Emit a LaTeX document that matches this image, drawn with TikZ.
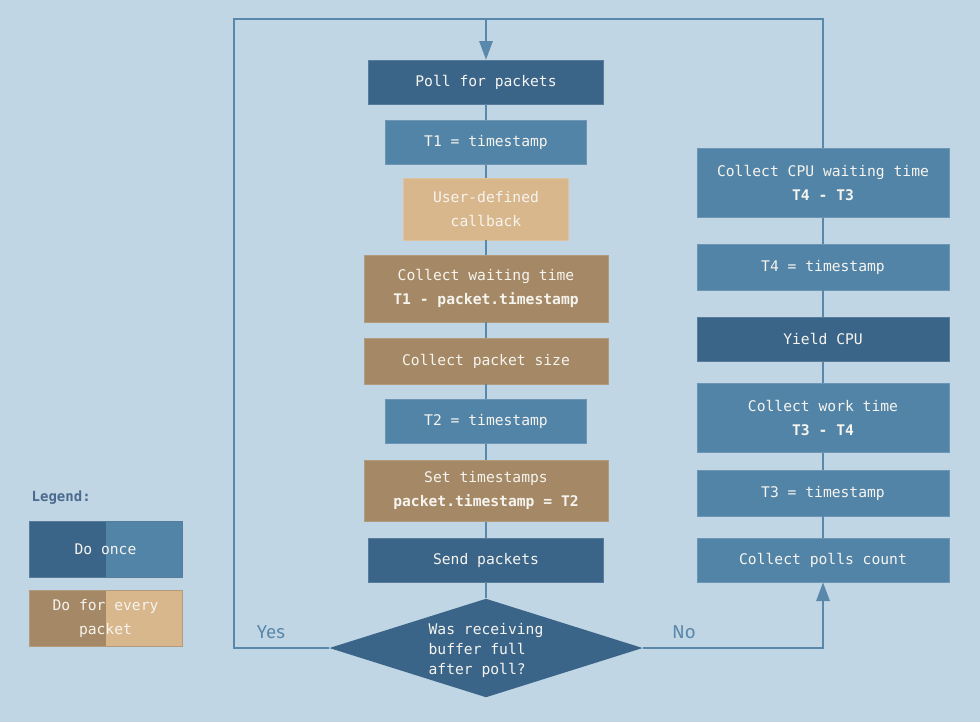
\documentclass[tikz,border=0pt]{standalone}
\usepackage{fontspec}
\setmonofont{DejaVu Sans Mono}
\newfontfamily\answerfont{Fira Sans}
\usetikzlibrary{positioning,shapes.geometric,arrows.meta}
\definecolor{bgblue}{HTML}{C1D6E4}
\definecolor{darkblue}{HTML}{3A6589}
\definecolor{midblue}{HTML}{5284A7}
\definecolor{darktan}{HTML}{A58966}
\definecolor{lighttan}{HTML}{D9B78D}
\definecolor{flowline}{HTML}{5A88AA}
\definecolor{boxtext}{HTML}{F6F4EF}
\definecolor{legendtext}{HTML}{4A6B8E}

\begin{document}
\begin{tikzpicture}[x=0.75pt, y=-0.75pt,
				every node/.style={font=\ttfamily\fontsize{11}{18}\selectfont, text=boxtext},
				box/.style={rectangle, fill=#1, draw=#1!85!white, line width=0.5pt, minimum height=33pt, align=center, inner sep=2pt},
				leftbox/.style={box=#1, minimum width=183pt},
				rightbox/.style={box=#1, minimum width=189pt},
				decision/.style={diamond, fill=darkblue, minimum width=235pt, minimum height=74pt, inner sep=0pt},
				answer/.style={font=\answerfont\fontsize{14}{16}\selectfont, text=flowline},
				link/.style={draw=flowline, line width=1.5pt},
				legendbox/.style={rectangle, fill=#1, draw=#1!85!white, line width=0.5pt, minimum width=115pt, minimum height=42pt, align=center}
			]
			\fill[bgblue] (0,0) rectangle (980,722);
			\useasboundingbox (0,0) rectangle (980,722);
			\node[box=darkblue, minimum width=176pt] (poll) at (486,82) {Poll for packets};
			\node[box=midblue, minimum width=151pt] (tone) [below=12pt of poll] {T1 = timestamp};
			\node[box=lighttan, minimum width=124pt, minimum height=46pt] (callback) [below=10pt of tone] {User-defined\\callback};
			\node[leftbox=darktan, minimum height=50pt] (waiting) [below=11pt of callback] {Collect waiting time\\\textbf{T1 - packet.timestamp}};
			\node[leftbox=darktan, minimum height=34pt] (pktsize) [below=12pt of waiting] {Collect packet size};
			\node[box=midblue, minimum width=151pt] (ttwo) [below=11pt of pktsize] {T2 = timestamp};
			\node[leftbox=darktan, minimum height=46pt] (settime) [below=12pt of ttwo] {Set timestamps\\\textbf{packet.timestamp = T2}};
			\node[box=darkblue, minimum width=176pt] (send) [below=12pt of settime] {Send packets};
			\node[decision] (check) at (486,648) {};
			\node[align=left, font=\ttfamily\fontsize{11}{15}\selectfont] (checktext) at ([yshift=-2pt]check) {Was receiving\\buffer full\\after poll?};
			\node[rightbox=midblue] (polls) at (823,560) {Collect polls count};
			\node[rightbox=midblue, minimum height=34pt] (tthree) [above=16pt of polls] {T3 = timestamp};
			\node[rightbox=midblue, minimum height=52pt] (worktime) [above=13pt of tthree] {Collect work time\\\textbf{T3 - T4}};
			\node[rightbox=darkblue] (yield) [above=16pt of worktime] {Yield CPU};
			\node[rightbox=midblue, minimum height=34pt] (tfour) [above=20pt of yield] {T4 = timestamp};
			\node[rightbox=midblue, minimum height=52pt] (cpuwait) [above=20pt of tfour] {Collect CPU waiting time\\\textbf{T4 - T3}};
			\node[answer] (yes) at (271,632) {Yes};
			\node[answer] (no) at (684,632) {No};
			\node[anchor=west, font=\ttfamily\bfseries\fontsize{10.5}{12}\selectfont, text=legendtext] (legend) at (27,498) {Legend:};
			\node[legendbox=darkblue, path picture={\fill[midblue] (path picture bounding box.south) rectangle (path picture bounding box.north east);}] (once) at (105.5,549) {Do once};
			\node[legendbox=darktan, path picture={\fill[lighttan] (path picture bounding box.south) rectangle (path picture bounding box.north east);}] (every) at (105.5,618.5) {Do for every\\packet};
			\coordinate (topmid) at (486,19);
			\coordinate (lefttop) at (234,19);
			\foreach \a/\b in {poll/tone, tone/callback, callback/waiting, waiting/pktsize, pktsize/ttwo, ttwo/settime, settime/send, send/check, cpuwait/tfour, tfour/yield, yield/worktime, worktime/tthree, tthree/polls}
				\draw[link] (\a) -- (\b);
			\begin{scope}[link, -{Triangle[length=14pt, width=10pt]}]
			\draw[-] (check.west) -| (lefttop) -- (topmid);
			\draw[-] (cpuwait.north) |- (topmid);
			\draw (topmid) -- (poll.north);
			\draw (check.east) -| (polls.south);
			\end{scope}
			\end{tikzpicture}
\end{document}
